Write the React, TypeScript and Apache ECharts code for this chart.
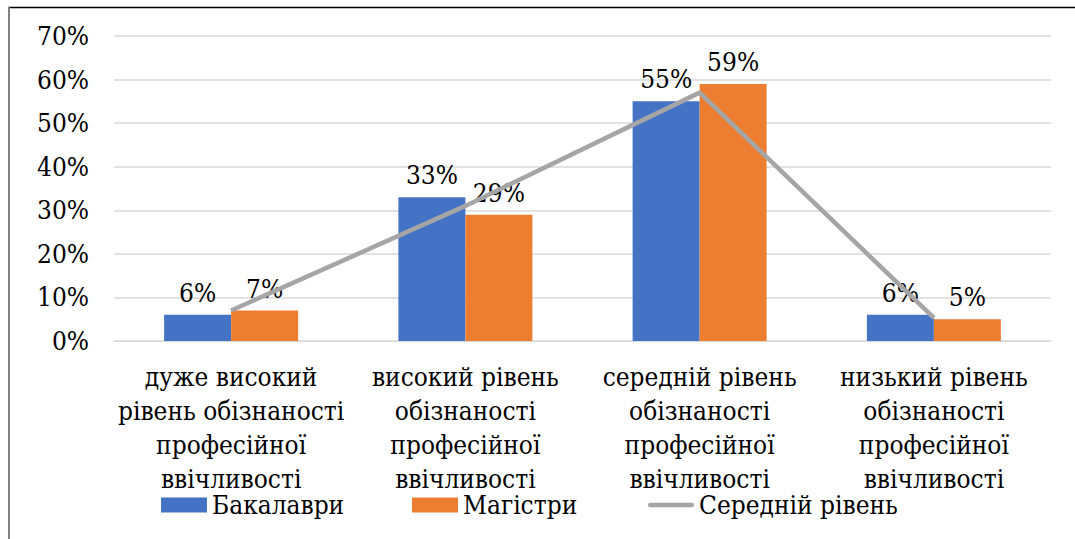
import React, { useEffect, useRef } from "react";
import * as echarts from "echarts";

const categories = [
  "дуже високий\nрівень обізнаності\nпрофесійної\nввічливості",
  "високий рівень\nобізнаності\nпрофесійної\nввічливості",
  "середній рівень\nобізнаності\nпрофесійної\nввічливості",
  "низький рівень\nобізнаності\nпрофесійної\nввічливості",
];
const bachelors = [6, 33, 55, 6];
const masters = [7, 29, 59, 5];
const averageLevel = [7, 31, 57, 5.3];
const seriesNames = ["Бакалаври", "Магістри", "Середній рівень"];

const FONT = "DejaVu Serif Condensed";
const FS = 26;

// one legend block per series so each entry sits at its own x
const legendLefts = [156, 407, 643];
const legendIcons = ["rect", "rect", "path://M2 0H44A2 2 0 0 1 44 4.5H2A2 2 0 0 1 2 0Z"];

export default function App() {
  const ref = useRef<HTMLDivElement>(null);

  useEffect(() => {
    if (!ref.current) return;
    const chart = echarts.init(ref.current, undefined, { renderer: "svg" });
    const barLabel = {
      show: true,
      position: "top",
      distance: 9,
      formatter: "{c}%",
      color: "#000",
      fontFamily: FONT,
      fontSize: FS,
    };
    chart.setOption({
      animation: false,
      backgroundColor: "#fff",
      grid: { left: 114, right: 24, top: 36, bottom: 198, containLabel: false },
      legend: seriesNames.map((name, i) => ({
        left: legendLefts[i],
        top: 487,
        itemWidth: 46,
        itemHeight: 15,
        textStyle: { fontFamily: FONT, fontSize: FS, color: "#000" },
        data: [{ name, icon: legendIcons[i] }],
      })),
      xAxis: {
        type: "category",
        data: categories,
        axisLine: { lineStyle: { color: "#d9d9d9", width: 1 } },
        axisTick: { show: false },
        axisLabel: {
          interval: 0,
          margin: 19,
          color: "#000",
          fontFamily: FONT,
          fontSize: FS,
          lineHeight: 34,
          align: "center",
        },
      },
      yAxis: {
        type: "value",
        min: 0,
        max: 70,
        interval: 10,
        axisLine: { show: false },
        axisTick: { show: false },
        splitLine: { lineStyle: { color: "#d9d9d9", width: 1.5 } },
        axisLabel: {
          margin: 25,
          formatter: "{value}%",
          color: "#000",
          fontFamily: FONT,
          fontSize: FS,
        },
      },
      series: [
        {
          name: seriesNames[0],
          type: "bar",
          data: bachelors,
          barWidth: "28.6%",
          barGap: "0%",
          itemStyle: { color: "#4472C4" },
          label: barLabel,
        },
        {
          name: seriesNames[1],
          type: "bar",
          data: masters,
          barWidth: "28.6%",
          barGap: "0%",
          itemStyle: { color: "#ED7D31" },
          label: barLabel,
        },
        {
          name: seriesNames[2],
          type: "line",
          data: averageLevel,
          symbol: "none",
          lineStyle: { color: "#A5A5A5", width: 4.5 },
          itemStyle: { color: "#A5A5A5" },
          z: 5,
        },
      ],
      graphic: [
        {
          type: "line",
          shape: { x1: 8, y1: 7.5, x2: 1075, y2: 7.5 },
          style: { stroke: "#000", lineWidth: 1.5 },
          silent: true,
        },
        {
          type: "line",
          shape: { x1: 9, y1: 7, x2: 9, y2: 539 },
          style: { stroke: "#808080", lineWidth: 2 },
          silent: true,
        },
      ],
    });
    return () => chart.dispose();
  }, []);

  return (
    <div
      ref={ref}
      style={{ position: "fixed", left: 0, top: 0, width: 1075, height: 539 }}
    />
  );
}
